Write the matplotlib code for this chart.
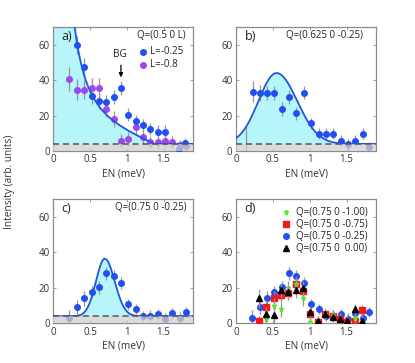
import numpy as np
import matplotlib
matplotlib.use("Agg")
import matplotlib.pyplot as plt

# ---------------- data ----------------
# panel a : Q=(0.5 0 L)
a_L025_x = [0.32, 0.42, 0.52, 0.62, 0.72, 0.82, 0.92, 1.02, 1.12, 1.22, 1.32, 1.42, 1.52, 1.71, 1.79]
a_L025_y = [60.0, 47.3, 31.3, 28.4, 27.7, 30.7, 35.4, 20.6, 16.8, 14.8, 12.5, 11.0, 10.9, 1.1, 4.3]
a_L025_e = [5.0, 5.0, 4.5, 4.5, 4.0, 4.0, 4.0, 3.5, 3.5, 3.5, 3.5, 3.5, 3.5, 3.0, 3.0]
a_L08_x = [0.22, 0.32, 0.42, 0.52, 0.62, 0.72, 0.82, 0.92, 1.02, 1.12, 1.22, 1.32, 1.42, 1.52, 1.62, 1.72, 1.81]
a_L08_y = [40.7, 34.7, 34.7, 35.6, 35.6, 23.5, 18.2, 5.8, 7.0, 13.8, 7.9, 5.0, 4.9, 5.8, 5.1, 3.3, 3.0]
a_L08_e = [7.0, 6.0, 5.5, 5.5, 5.5, 4.5, 4.5, 4.0, 4.0, 4.0, 4.0, 3.5, 3.5, 3.5, 3.5, 3.0, 3.0]

# panel b : Q=(0.625 0 -0.25)
b_x = [0.23, 0.33, 0.42, 0.52, 0.62, 0.72, 0.82, 0.92, 1.02, 1.12, 1.22, 1.32, 1.42, 1.52, 1.62, 1.72, 1.80]
b_y = [33.5, 32.6, 32.8, 32.8, 23.5, 30.7, 21.2, 33.0, 15.7, 9.8, 9.8, 9.8, 5.9, 3.8, 5.9, 9.8, 2.3]
b_e = [6.0, 4.5, 4.0, 4.0, 4.0, 4.0, 3.5, 3.5, 3.0, 3.0, 3.0, 3.0, 3.0, 3.0, 3.0, 3.0, 3.0]
b_lone_x = [0.13]
b_lone_y = [6.8]
b_lone_e = [6.8]

# panel c / d : Q=(0.75 0 -0.25)
c_x = [0.22, 0.32, 0.42, 0.52, 0.62, 0.72, 0.82, 0.92, 1.02, 1.12, 1.22, 1.32, 1.42, 1.52, 1.62, 1.72, 1.80]
c_y = [2.8, 9.0, 14.0, 17.7, 20.2, 28.1, 26.6, 22.8, 10.6, 8.1, 4.2, 4.3, 5.1, 2.6, 5.7, 3.2, 6.4]
c_e = [4.5, 4.0, 4.0, 3.5, 3.5, 3.5, 3.5, 3.5, 3.0, 3.0, 3.0, 3.0, 3.0, 3.0, 3.0, 3.0, 3.0]

# panel d : other Q
d_m100_x = [0.41, 0.51, 0.61, 0.71, 0.81, 0.91, 1.01, 1.21, 1.31, 1.61]
d_m100_y = [2.2, 10.0, 7.8, 20.0, 22.0, 14.0, 1.0, 5.0, 4.5, 3.0]
d_m100_e = [3.0, 4.0, 4.0, 4.0, 4.0, 4.0, 3.0, 3.0, 3.0, 3.0]
d_m075_x = [0.31, 0.41, 0.51, 0.61, 0.71, 0.81, 0.91, 1.01, 1.11, 1.21, 1.31, 1.41, 1.51, 1.61, 1.71]
d_m075_y = [1.3, 8.9, 14.0, 16.2, 17.0, 22.3, 18.3, 5.1, 0.9, 5.3, 4.2, 2.6, 0.9, 1.3, 7.5]
d_m075_e = [3.0, 4.0, 4.0, 4.0, 4.0, 4.0, 4.0, 3.0, 3.0, 3.0, 3.0, 3.0, 3.0, 3.0, 3.0]
d_000_x = [0.31, 0.41, 0.51, 0.61, 0.71, 0.81, 0.91, 1.01, 1.11, 1.21, 1.31, 1.41, 1.51, 1.61, 1.71]
d_000_y = [14.0, 5.3, 4.5, 18.9, 17.7, 18.5, 19.8, 6.6, 1.3, 5.3, 3.6, 2.3, 1.5, 7.9, 1.5]
d_000_e = [5.5, 4.0, 4.5, 4.0, 4.0, 4.0, 4.0, 3.0, 3.0, 3.0, 3.0, 3.0, 3.0, 3.0, 3.0]

background = 4.0
# fit parameters
fit_a = dict(A=11.2, p=1.44, x0=1.37, k=4)
fit_b = dict(A=40.0, c=0.55, sl=0.245, sr=0.28)
fit_c = dict(A=32.4, c=0.70, sl=0.12, sr=0.135)

xticks = [0, 0.5, 1, 1.5]
xticklabels = ["0", "0.5", "1", "1.5"]
yticks = [0, 20, 40, 60]

# ---------------- style ----------------
BLUE = "#1f4ff5"
LINE = "#2255e0"
PURPLE = "#a046ee"
CYAN = "#b6f5f9"
GREYBAND = "#cfcfcf"
ERR = "#959595"
SPINE = "#8c8c8c"
MS = 4.0

W, H = 415, 363
fig = plt.figure(figsize=(W / 100, H / 100), dpi=100)
plt.rcParams["font.family"] = ["Open Sans", "DejaVu Sans"]

def px_axes(l, t, r, b):
    return fig.add_axes([l / W, 1 - b / H, (r - l) / W, (b - t) / H])

axa = px_axes(53.3, 27, 193, 151)
axb = px_axes(236, 27, 376, 151)
axc = px_axes(53.3, 199, 193, 323.3)
axd = px_axes(236, 199, 376, 323.3)

def style(ax, lab):
    ax.set_xlim(0, 1.9)
    ax.set_ylim(0, 70)
    ax.set_xticks(xticks)
    ax.set_xticklabels(xticklabels)
    ax.set_yticks(yticks)
    ax.tick_params(direction="in", length=2.5, width=0.6, color=SPINE,
                   labelsize=7, pad=2.5, top=True, right=True, labelcolor="#333333")
    for s in ax.spines.values():
        s.set_color(SPINE)
        s.set_linewidth(0.9)
    ax.set_xlabel("EN (meV)", fontsize=7.3, labelpad=2, color="#333333")
    ax.text(0.06, 0.92, lab, transform=ax.transAxes, fontsize=9,
            ha="left", va="center", color="#222222")

def err(ax, x, y, e, color, marker="o", ms=MS, z=3):
    ax.errorbar(x, y, yerr=e, fmt=marker, color=color, ms=ms, mec=color,
                ecolor=ERR, elinewidth=0.9, capsize=0, zorder=z)

def band(ax):
    ax.axhspan(0, background, color=GREYBAND, alpha=0.75, lw=0, zorder=6)
    ax.axhline(background, color="#555555", lw=1.1, ls=(0, (4, 2.5)), zorder=7)

def split_gauss(x, A, c, sl, sr):
    s = np.where(x < c, sl, sr)
    return background + A * np.exp(-(x - c) ** 2 / (2 * s ** 2))

xs = np.linspace(0.005, 1.9, 600)

# ---- a ----
ya = fit_a["A"] * xs ** (-fit_a["p"]) * (1 - (xs / fit_a["x0"]) ** fit_a["k"])
ya = background + np.clip(ya, 0, 500)
axa.fill_between(xs, background, ya, color=CYAN, lw=0, zorder=1)
axa.plot(xs, ya, color=LINE, lw=1.3, zorder=4)
err(axa, a_L08_x, a_L08_y, a_L08_e, PURPLE)
err(axa, a_L025_x, a_L025_y, a_L025_e, BLUE)
band(axa)
style(axa, "a)")
axa.text(0.774, 0.935, "Q=(0.5 0 L)", transform=axa.transAxes, fontsize=7,
         ha="center", va="center", color="#222222")
axa.plot([0.64], [0.80], "o", color=BLUE, ms=MS, transform=axa.transAxes, clip_on=False)
axa.text(0.695, 0.80, "L=-0.25", transform=axa.transAxes, fontsize=7, va="center", color="#222222")
axa.plot([0.64], [0.695], "o", color=PURPLE, ms=MS, transform=axa.transAxes, clip_on=False)
axa.text(0.695, 0.695, "L=-0.8", transform=axa.transAxes, fontsize=7, va="center", color="#222222")
axa.annotate("", xy=(0.92, 40.0), xytext=(0.92, 50.0),
             arrowprops=dict(arrowstyle="-|>", color="black", lw=0.9, mutation_scale=6), zorder=8)
axa.text(0.91, 54.5, "BG", fontsize=7.2, ha="center", va="center", color="#222222")

# ---- b ----
yb = split_gauss(xs, **fit_b)
axb.fill_between(xs, background, yb, color=CYAN, lw=0, zorder=1)
axb.plot(xs, yb, color=LINE, lw=1.3, zorder=4)
axb.errorbar(b_lone_x, b_lone_y, yerr=b_lone_e, fmt="none", ecolor=ERR, elinewidth=0.9, zorder=3)
err(axb, b_x, b_y, b_e, BLUE)
band(axb)
style(axb, "b)")
axb.text(0.635, 0.93, "Q=(0.625 0 -0.25)", transform=axb.transAxes, fontsize=7,
         ha="center", va="center", color="#222222")

# ---- c ----
yc = split_gauss(xs, **fit_c)
axc.fill_between(xs, background, yc, color=CYAN, lw=0, zorder=1)
axc.plot(xs, yc, color=LINE, lw=1.3, zorder=4)
err(axc, c_x, c_y, c_e, BLUE)
band(axc)
style(axc, "c)")
axc.text(0.70, 0.93, "Q=(0.75 0 -0.25)", transform=axc.transAxes, fontsize=7,
         ha="center", va="center", color="#222222")

# ---- d ----
err(axd, c_x, c_y, c_e, BLUE, z=3)
err(axd, d_m075_x, d_m075_y, d_m075_e, "#f01a1a", marker="s", ms=3.7, z=4)
err(axd, d_m100_x, d_m100_y, d_m100_e, "#5ee62a", marker="*", ms=3.6, z=5)
err(axd, d_000_x, d_000_y, d_000_e, "black", marker="^", ms=4.0, z=6)
style(axd, "d)")
leg = [("*", "#5ee62a", 3.6, "Q=(0.75 0 -1.00)"),
       ("s", "#f01a1a", 3.7, "Q=(0.75 0 -0.75)"),
       ("o", BLUE, MS, "Q=(0.75 0 -0.25)"),
       ("^", "black", 4.0, "Q=(0.75 0  0.00)")]
for i, (m, col, ms, lab) in enumerate(leg):
    yy = 0.895 - 0.097 * i
    axd.plot([0.357], [yy], m, color=col, ms=ms, transform=axd.transAxes, clip_on=False)
    axd.text(0.43, yy, lab, transform=axd.transAxes, fontsize=7, va="center", color="#222222")

fig.text(0.022, 0.50, "Intensity (arb. units)", rotation=90, fontsize=7.3,
         ha="center", va="center", color="#333333")

fig.savefig("out.png", dpi=100)
